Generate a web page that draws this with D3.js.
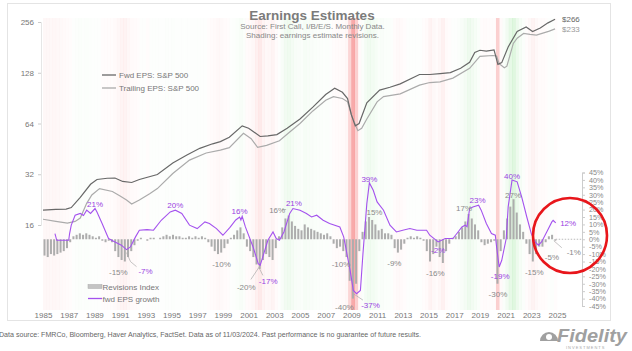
<!DOCTYPE html>
<html><head><meta charset="utf-8">
<script src="https://cdn.jsdelivr.net/npm/d3@7"></script>
<style>body{margin:0;background:#fff}svg{display:block;font-family:"Liberation Sans",Arial,sans-serif}</style>
</head><body><svg id="c" width="632" height="351"></svg>
<script>
// ---------- data ----------
const fwdYears = [1985.0,1986.0,1986.8,1987.2,1987.9,1988.7,1989.2,1990.0,1990.6,1991.2,1991.9,1992.5,1993.9,1995.1,1996.2,1997.2,1998.2,1998.8,1999.5,2000.5,2001.0,2001.9,2002.5,2003.2,2004.0,2005.0,2006.0,2007.0,2007.7,2008.3,2008.7,2009.0,2009.3,2009.6,2010.2,2011.2,2012.0,2012.8,2014.3,2015.1,2015.9,2016.7,2017.5,2018.2,2018.6,2019.0,2019.5,2020.1,2020.4,2020.7,2021.2,2021.9,2022.6,2023.1,2023.7,2024.3,2024.85];
const fwdEPS   = [19.6,19.8,19.9,20.3,23.3,27.9,29.8,30.3,30.4,29.0,28.6,29.8,31.9,37.3,41.6,45.6,48.5,50.0,53,62,60,53.6,54,55,60,68,80,95,103.5,98,90,72,62,64,85,101,105,110,125,125,126.5,128.3,136,147.5,169,174,172,175,143.5,147,182,225,239,225,236,253,266];

const trailYears = [1985.0,1986.0,1986.9,1987.5,1987.9,1988.4,1988.8,1989.4,1990.4,1991.0,1991.5,1991.9,1992.5,1993.3,1993.9,1995.1,1996.4,1997.7,1998.8,1999.5,2000.6,2001.2,2001.7,2002.4,2003.4,2004.2,2005.0,2006.0,2007.0,2007.6,2008.3,2008.7,2009.0,2009.5,2009.8,2010.2,2011.0,2011.5,2012.8,2014.3,2015.1,2015.9,2016.9,2018.2,2019.0,2020.0,2020.3,2020.5,2020.9,2021.1,2021.6,2021.9,2022.4,2022.9,2023.4,2023.9,2024.4,2024.85];
const trailEPS   = [17.3,16.8,16.4,16.8,17.6,21.5,24.1,26.3,25.3,23.8,22.5,21.3,22.5,24.5,26.3,32.3,38.8,42.8,44.5,46,56,52,46.2,47.5,50.6,57,64,76,88,92.4,90,86,72,58,60,68,86,92.4,96,108,112,113,119,136,160,162,161,145,137,140,191,205,219,216,214,220,226,233];

const growthYears = [1985.93,1986.07,1987.0,1987.07,1987.2,1987.5,1987.9,1988.15,1988.4,1988.7,1989.05,1989.2,1989.6,1990.1,1990.6,1991.1,1991.5,1991.8,1992.2,1992.5,1993.1,1993.6,1994.2,1994.9,1995.3,1995.8,1996.4,1997.0,1997.6,1997.95,1998.5,1999.0,1999.55,2000.0,2000.3,2000.4,2000.5,2000.75,2001.35,2001.75,2001.9,2002.1,2002.5,2002.9,2003.15,2003.4,2003.75,2004.2,2004.45,2005.0,2005.5,2005.9,2006.3,2006.8,2007.3,2008.1,2008.4,2008.6,2008.9,2009.15,2009.4,2009.7,2009.9,2010.2,2010.4,2010.7,2011.0,2011.5,2012.0,2012.5,2013.0,2013.55,2014.1,2014.85,2015.1,2015.75,2016.3,2016.9,2017.3,2017.6,2017.85,2018.0,2018.2,2018.45,2018.9,2019.1,2019.5,2019.9,2020.2,2020.3,2020.5,2020.7,2021.05,2021.2,2021.5,2021.9,2022.25,2022.65,2023.0,2023.3,2023.55,2023.8,2024.2,2024.6,2024.7,2024.9];
const growthPct   = [3.8,-0.7,-0.7,3.8,9.5,16.2,17.4,16,19.6,17.4,20.7,18.4,10.6,0.5,-1.8,-4,-7,-5.2,1.6,6.1,6.5,6.1,12.8,18.4,19.6,17.4,9.5,7.2,11.7,10.6,7.2,2.7,8,13,15,13,15.5,8.3,-5.2,-16.4,-17.5,-12,-0.7,4.9,0.5,-0.7,4.9,17.4,20.7,19.6,17.4,15,16.2,12.8,10.6,8.3,1.6,-7.4,-21,-34.5,-36.7,-34.5,-9.7,24,38,33,25.2,19.6,9.5,4.9,6.1,7.2,6.1,6.1,2.7,-1.8,0.5,0.5,4.9,8.3,9.5,8.5,20.7,21.8,23,19.6,10.6,3.8,2.7,-5.2,-18.7,-14.2,0.5,21.8,39.9,38.7,28.6,15,3.8,-1.8,-4,-1.8,4.9,11.7,12.8,11];

// quarterly revisions index (%), starting 1985 Q1
const revStart = 1985;
const revisions = [
 -11,-12,-10,-11, -10,-9,-8,-6, -2,2,3,4, 3,4,3,2, 1,2,-1,-2,
 -1,-2,-8,-12, -14,-15,-12,-8, -4,-1,1,0, -1,1,1,0, 1,2,3,2,
 3,2,2,1, 1,2,1,2, 1,2,1,-2, -5,-8,-10,-9, -6,-3,1,3,
 6,8,4,-5, -8,-12,-17,-20, -14,-10,-12,-14, -6,2,8,14, 16,12,9,7,
 6,10,8,7, 6,5,4,3, 4,2,-3,-6, -5,-8,-12,-28, -40,-30,-8,5,
 12,15,13,10, 6,7,4,4, 3,-6,-9,-7, -3,1,2,1, 2,1,-1,-8,
 -15,-10,-5,-12, -16,-8,-3,1, 2,5,8,12, 17,14,10,6, -2,-4,-3,-2,
 -1,-30,-8,6, 14,22,27,18, 10,5,-3,-10, -15,-10,-5,-5, -2,2,3,-1
];

const leftTicks = [16,32,64,128,256];
const rightTicks = d3.range(-45,50,5);
const xTicks = d3.range(1985,2026,2);

// annotations: text, year, value, series, dx, dy
const annotations = [
 ["21%",1989.05,20.7,"g",0,-5],
 ["20%",1995.3,19.6,"g",0,-5],
 ["16%",2000.3,15,"g",0,-6],
 ["21%",2004.45,20.7,"g",1,-6],
 ["39%",2010.4,38,"g",0,-4],
 ["23%",2018.9,23,"g",-1,-5],
 ["40%",2021.5,39.9,"g",0,-4],
 ["12%",2024.7,12.8,"g",15,3],
 ["-7%",1991.5,-7,"g",19,21],
 ["-17%",2001.9,-17.5,"g",8,16],
 ["-37%",2009.4,-36.7,"g",14,11],
 ["-2%",2015.75,-1.8,"g",0,8],
 ["-19%",2020.5,-18.7,"g",1,9],
 ["-15%",1991.25,-15,"r",-5,10],
 ["-10%",1998.5,-10,"r",5,10],
 ["-20%",2001.75,-20,"r",-12,18],
 ["16%",2004.0,16,"r",-10,-6],
 ["-10%",2008.5,-12,"r",-4,7],
 ["-40%",2009.0,-40,"r",-7,8],
 ["15%",2010.25,15,"r",7,-5],
 ["-9%",2012.5,-9,"r",-2,10],
 ["-16%",2016.0,-16,"r",-6,10],
 ["17%",2018.0,17,"r",-3,-6],
 ["27%",2021.5,27,"r",1,-4],
 ["-30%",2020.25,-30,"r",2,10],
 ["-15%",2023.0,-15,"r",3,10],
 ["-5%",2023.75,-5,"r",11,10],
 ["-1%",2024.75,-1,"r",20,11]
];

// ---------- drawing ----------
const svg = d3.select("#c");
const FONT = '"Liberation Sans",Arial,sans-serif';
const purple = "#a452ee", purpleTxt = "#9a3fe2";

const x = d3.scaleLinear().domain([1985,2025]).range([43,557]);
const yL = d3.scaleLog().base(2).domain([16,256]).range([225,22]);
const yR = d3.scaleLinear().domain([-45,45]).range([306,172.5]);

// frame
svg.append("rect").attr("x",7.5).attr("y",3.5).attr("width",603).attr("height",317)
  .attr("fill","none").attr("stroke","#e4e4e4");

// shading
const revData = revisions.map((v,i)=>({t:revStart+i/4, v}));
svg.append("g").selectAll("rect").data(revData).join("rect")
  .attr("x",d=>x(d.t)).attr("width",d=>x(d.t+0.25)-x(d.t)+0.3)
  .attr("y",18).attr("height",292)
  .attr("fill",d=> d.v<0 ? "rgb(238,60,60)" : "rgb(70,205,70)")
  .attr("fill-opacity",d=> d.v<0 ? 0.015+0.42*Math.pow(Math.min(1,-d.v/40),2.2) : 0.01+0.16*Math.pow(Math.min(1,d.v/27),1.5));

// revisions bars
const bw = x(1985.25)-x(1985);
svg.append("g").selectAll("rect").data(revData).join("rect")
  .attr("x",d=>x(d.t)+0.5).attr("width",bw-1.2)
  .attr("y",d=>Math.min(yR(0),yR(d.v))).attr("height",d=>Math.abs(yR(d.v)-yR(0)))
  .attr("fill","#adadad");

// zero dotted line on right
svg.append("line").attr("x1",x(2024.9)).attr("x2",582).attr("y1",yR(0)).attr("y2",yR(0))
  .attr("stroke","#bbb").attr("stroke-dasharray","1.5,1.5");

// EPS lines
const lineL = d3.line().x(d=>x(d[0])).y(d=>yL(d[1]));
svg.append("path").datum(d3.zip(trailYears,trailEPS)).attr("d",lineL)
  .attr("fill","none").attr("stroke","#ababab").attr("stroke-width",1.2);
svg.append("path").datum(d3.zip(fwdYears,fwdEPS)).attr("d",lineL)
  .attr("fill","none").attr("stroke","#686868").attr("stroke-width",1.2);

// growth line
const lineR = d3.line().x(d=>x(d[0])).y(d=>yR(d[1]));
svg.append("path").datum(d3.zip(growthYears,growthPct)).attr("d",lineR)
  .attr("fill","none").attr("stroke",purple).attr("stroke-width",1.1);

// axes
const axL = svg.append("g").attr("transform","translate(41,0)")
  .call(d3.axisLeft(yL).tickValues(leftTicks).tickFormat(d3.format("d")).tickSize(3).tickPadding(4));
axL.select(".domain").attr("stroke","#e6e6e6");
axL.selectAll(".tick line").attr("stroke","#ccc");
axL.selectAll("text").attr("fill","#777").style("font-size","8px").style("font-family",FONT);

const axR = svg.append("g").attr("transform","translate(582,0)")
  .call(d3.axisRight(yR).tickValues(rightTicks).tickFormat(d=>d+"%").tickSize(3).tickPadding(4));
axR.select(".domain").attr("stroke","#ccc");
axR.selectAll(".tick line").attr("stroke","#ccc");
axR.selectAll("text").attr("fill","#888").style("font-size","7.2px").style("font-family",FONT);

const axB = svg.append("g").attr("transform","translate(0,309)")
  .call(d3.axisBottom(x).tickValues(xTicks).tickFormat(d3.format("d")).tickSize(0).tickPadding(3));
axB.select(".domain").remove();
axB.selectAll("text").attr("fill","#777").style("font-size","8px").style("font-family",FONT);

// title
svg.append("text").attr("x",312).attr("y",19.5).attr("text-anchor","middle")
  .attr("font-size",13.5).attr("font-weight","bold").attr("fill","#7b7b7b").text("Earnings Estimates");
svg.append("text").attr("x",312.5).attr("y",28.5).attr("text-anchor","middle")
  .attr("font-size",8).attr("fill","#888").text("Source: First Call, I/B/E/S. Monthly Data.");
svg.append("text").attr("x",312.5).attr("y",37.5).attr("text-anchor","middle")
  .attr("font-size",8).attr("fill","#888").text("Shading: earnings estimate revisions.");

// end labels
svg.append("text").attr("x",562).attr("y",21.5).attr("font-size",8).attr("fill","#666").text("$266");
svg.append("text").attr("x",562).attr("y",32).attr("font-size",8).attr("fill","#999").text("$233");

// top legend
svg.append("line").attr("x1",102).attr("x2",116).attr("y1",75).attr("y2",75).attr("stroke","#686868").attr("stroke-width",1.3);
svg.append("text").attr("x",119).attr("y",78).attr("font-size",8).attr("fill","#777").text("Fwd EPS: S&P 500");
svg.append("line").attr("x1",102).attr("x2",116).attr("y1",88).attr("y2",88).attr("stroke","#ababab").attr("stroke-width",1.3);
svg.append("text").attr("x",119).attr("y",91).attr("font-size",8).attr("fill","#777").text("Trailing EPS: S&P 500");

// bottom legend
svg.append("rect").attr("x",88).attr("y",284.5).attr("width",14).attr("height",4).attr("fill","#c4c4c4").attr("stroke","#aaa").attr("stroke-width",0.5);
svg.append("text").attr("x",102.5).attr("y",290).attr("font-size",8).attr("fill","#777").text("Revisions Index");
svg.append("line").attr("x1",88).attr("x2",102).attr("y1",298.5).attr("y2",298.5).attr("stroke",purple).attr("stroke-width",1.3);
svg.append("text").attr("x",102.5).attr("y",301.5).attr("font-size",8).attr("fill","#777").text("fwd EPS growth");

// leader lines (from data points)
const leaders = [
 [1991.5,-7,[[0,3],[4,12],[10,17]]],
 [2001.8,-19,[[0,0],[-8,12]]],
 [2001.8,-19,[[0,0],[4,8]]],
 [2009.2,-37,[[0,0],[9,6]]],
 [2024.75,-1,[[0,0],[8,7]]],
 [2004.0,16,[[-5,-6],[-1,-6]]]
];
leaders.forEach(([t,v,pts])=>{
  svg.append("path").attr("d",d3.line()(pts.map(p=>[x(t)+p[0],yR(v)+p[1]])))
    .attr("fill","none").attr("stroke","#aaa").attr("stroke-width",0.7);
});

// annotations
svg.append("g").selectAll("text").data(annotations).join("text")
  .attr("x",d=>x(d[1])+d[4]).attr("y",d=>yR(d[2])+d[5]+3)
  .attr("text-anchor","middle").attr("font-size",8)
  .attr("fill",d=>d[3]==="g"?purpleTxt:"#8a8a8a")
  .text(d=>d[0]);

// red circle
svg.append("ellipse").attr("cx",570).attr("cy",235.5).attr("rx",37).attr("ry",37.5)
  .attr("fill","none").attr("stroke","#e8161b").attr("stroke-width",2.6);

// footer
svg.append("text").attr("x",-1).attr("y",337).attr("font-size",7.4).attr("fill","#666")
  .attr("textLength",422).attr("lengthAdjust","spacingAndGlyphs")
  .text("Data source: FMRCo, Bloomberg, Haver Analytics, FactSet. Data as of 11/03/2024. Past performance is no guarantee of future results.");

// Fidelity logo
const logo = svg.append("g");
logo.append("path").attr("d","M540,341 A9,9 0 0 1 558,341 Z").attr("fill","#a0a0a0");
logo.append("circle").attr("cx",549).attr("cy",337).attr("r",3).attr("fill","#fff");
logo.append("text").attr("x",557).attr("y",342).attr("font-size",18).attr("font-style","italic")
  .attr("font-weight","bold").attr("fill","#a0a0a0").attr("textLength",70).attr("lengthAdjust","spacingAndGlyphs").text("Fidelity");
logo.append("text").attr("x",566).attr("y",349).attr("font-size",4).attr("fill","#a8a8a8")
  .attr("letter-spacing","1").text("INVESTMENTS");
</script>
</body></html>
